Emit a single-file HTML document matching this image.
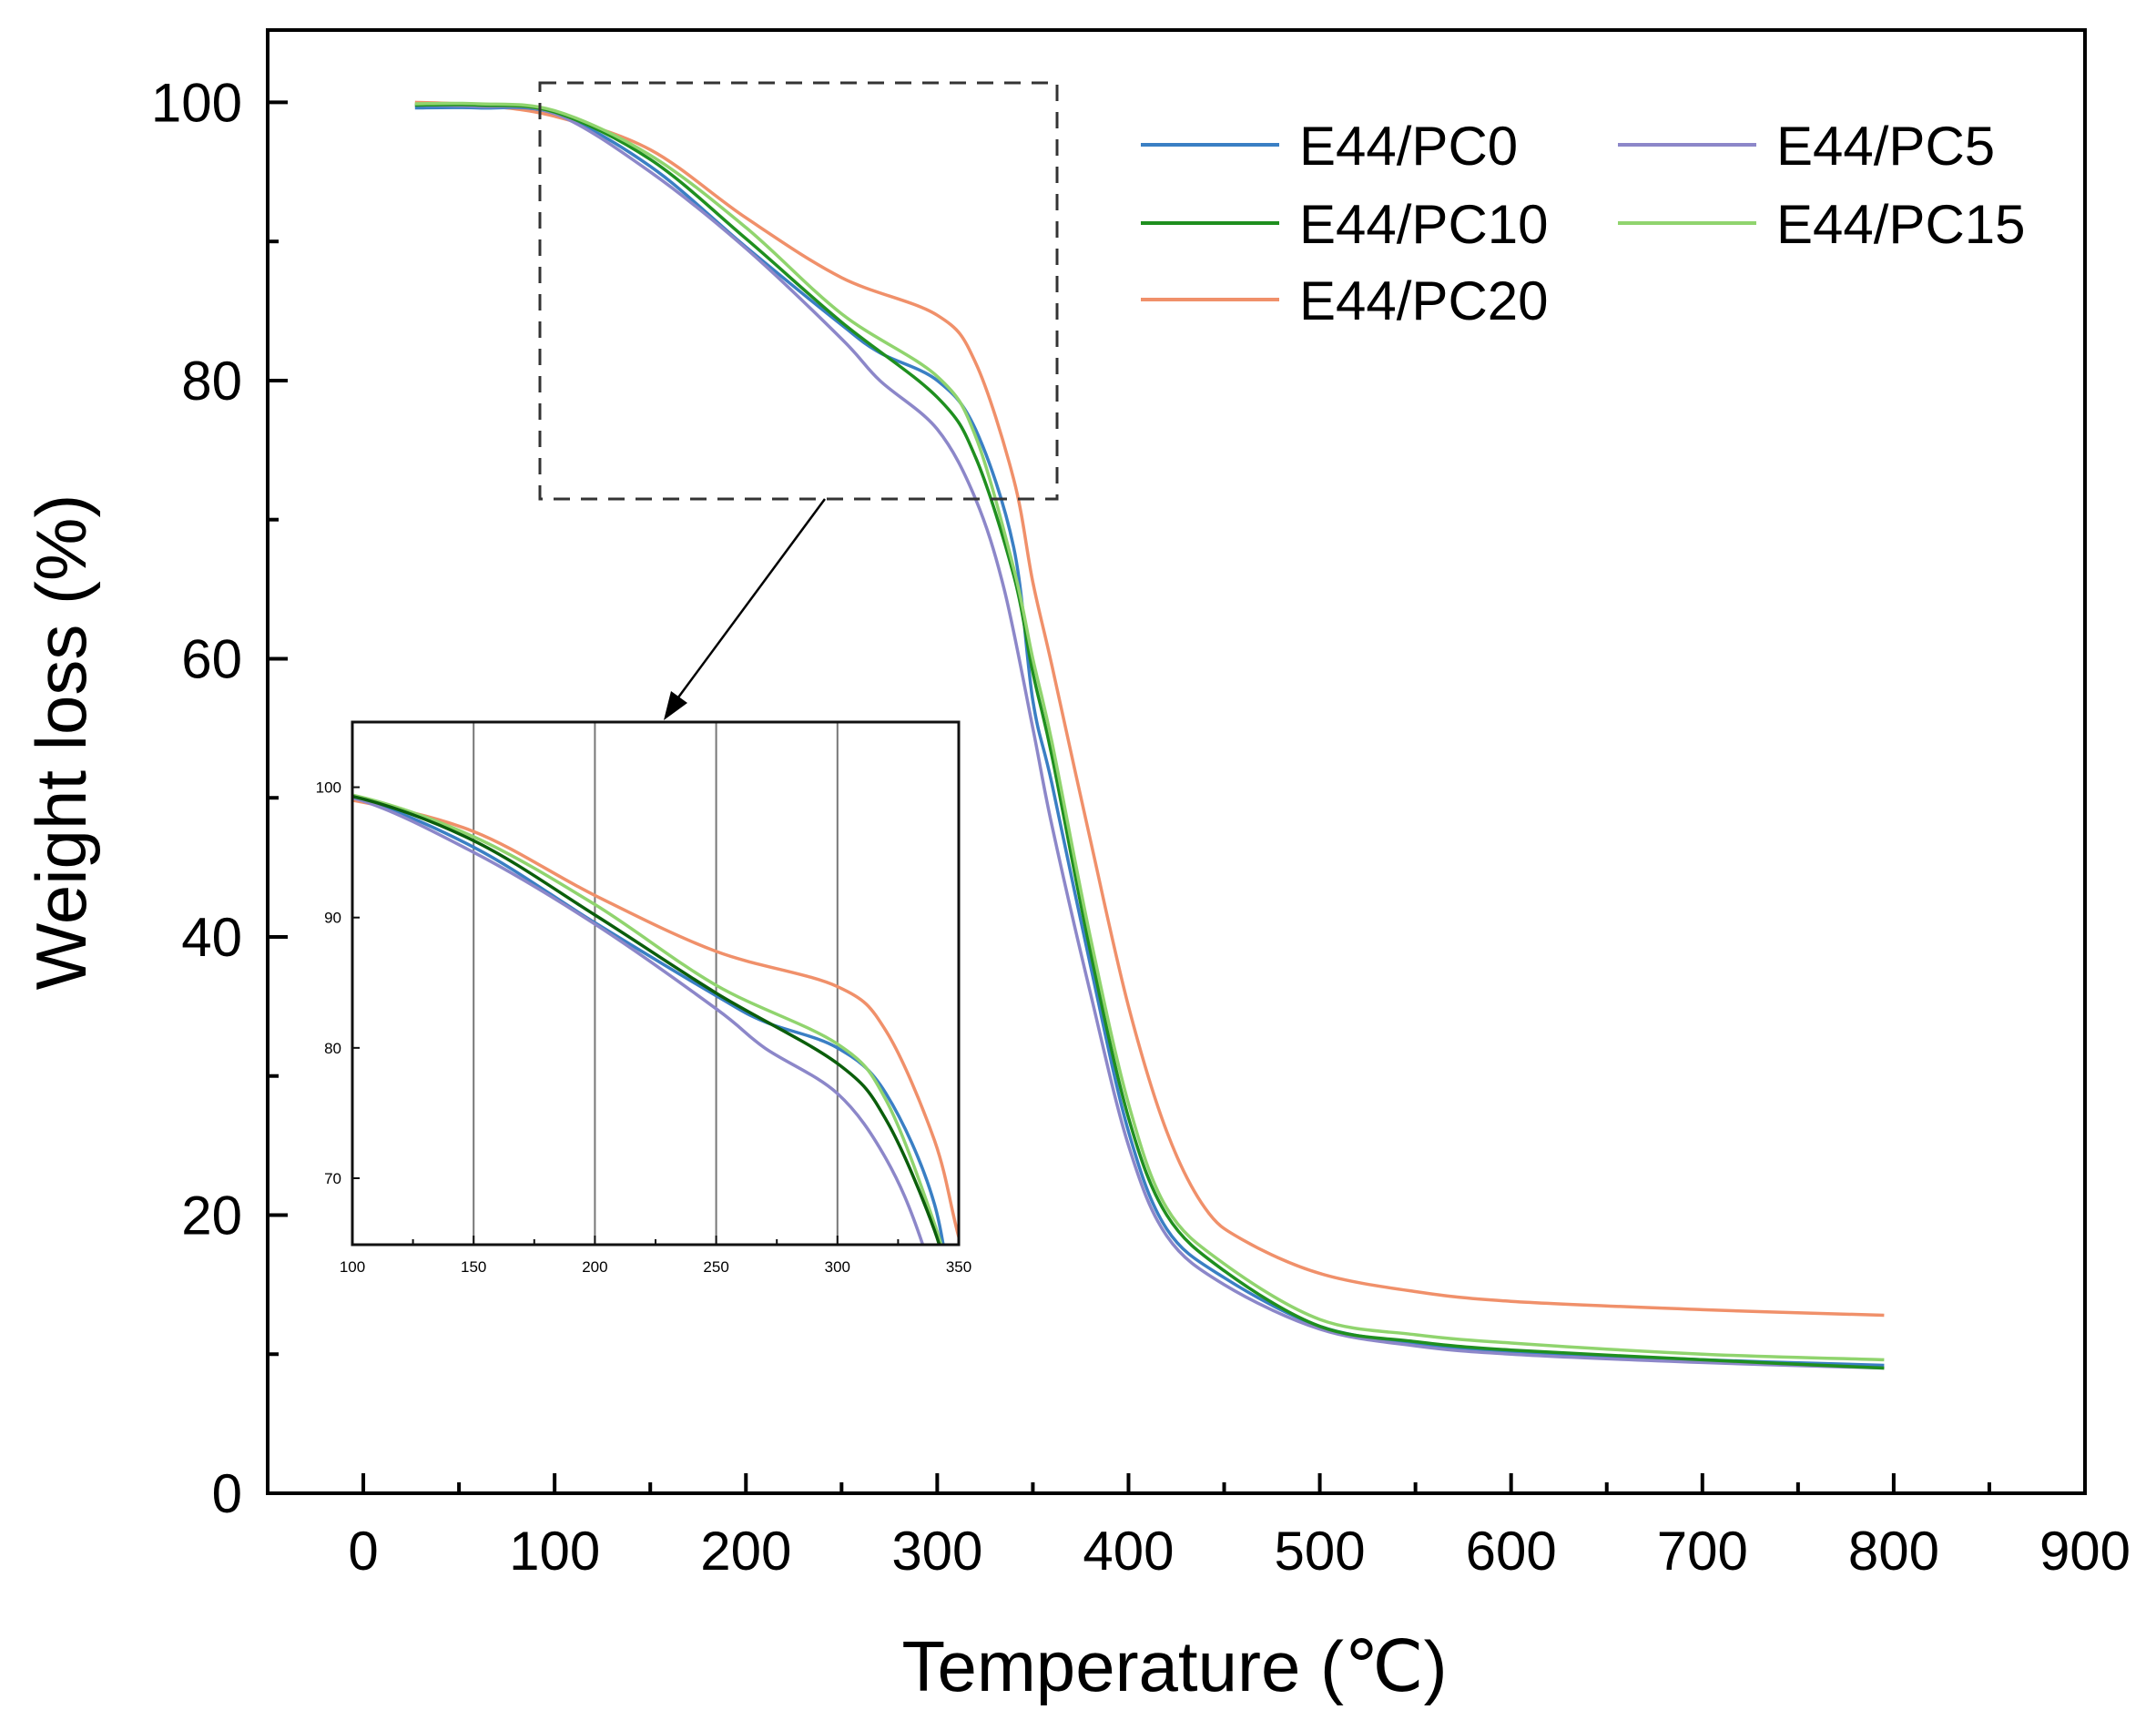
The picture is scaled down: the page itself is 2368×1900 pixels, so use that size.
<!DOCTYPE html>
<html><head><meta charset="utf-8"><style>
html,body{margin:0;padding:0;background:#fff;overflow:hidden;width:2368px;height:1900px;}
svg{display:block;}
svg text{font-family:"Liberation Sans",Arial,sans-serif;fill:#000;}
</style></head><body>
<svg id="chart" width="2368" height="1900" viewBox="0 0 2368 1900" xmlns="http://www.w3.org/2000/svg"></svg>
<script>
const seriesNames = ["E44/PC0","E44/PC5","E44/PC10","E44/PC15","E44/PC20"];
const seriesColors = ["#3a7fc4","#8c87c9","#1f8f1f","#90d46e","#f0906a"];
const xPC0  = [27,60,100,150,200,250,270,300,320,340,350,360,380,400,420,450,500,550,600,700,795];
const yPC0  = [99.6,99.6,99.2,95.4,89.6,84.0,82.0,80.0,76.5,68,57,51,38,26,19,15.5,12,10.8,10.2,9.6,9.2];
const xPC5  = [27,60,100,150,200,250,270,300,320,335,350,360,380,400,420,450,500,550,600,700,795];
const yPC5  = [99.8,99.7,99.2,95.0,89.5,83.0,80.0,76.5,71.5,65,55,48,36,25,18.5,15,11.8,10.6,10,9.4,9.0];
const xPC10 = [27,60,100,150,200,250,300,320,340,350,360,380,400,420,450,500,550,600,700,795];
const yPC10 = [99.8,99.8,99.3,95.9,90.2,84.2,78.8,74.5,66,59,53,39,27,20,16,12,10.9,10.3,9.6,9.0];
const xPC15 = [27,60,100,150,200,250,300,320,340,350,360,380,400,420,450,500,550,600,700,795];
const yPC15 = [99.9,99.9,99.4,96.2,91.0,84.8,80.3,76,66.5,60,54,40,28,20.5,16.5,12.5,11.4,10.8,10.0,9.6];
const xPC20 = [27,60,100,150,200,250,300,320,340,350,360,380,400,420,440,460,500,550,600,700,795];
const yPC20 = [100,99.8,99.0,96.6,91.7,87.4,84.7,81.3,72.9,65.5,59.5,47,35,26,20.5,18.2,15.8,14.5,13.8,13.2,12.8];
const seriesX = [xPC0,xPC5,xPC10,xPC15,xPC20];
const seriesY = [yPC0,yPC5,yPC10,yPC15,yPC20];
const xTicks = [0,100,200,300,400,500,600,700,800,900];
const yTicks = [0,20,40,60,80,100];
const insetXTicks = [100,150,200,250,300,350];
const insetYTicks = [70,80,90,100];

const NS="http://www.w3.org/2000/svg";
const svg=document.getElementById('chart');
function mk(tag,attrs,parent){const e=document.createElementNS(NS,tag);for(const k in attrs)e.setAttribute(k,attrs[k]);(parent||svg).appendChild(e);return e;}

const L=294,R=2290,T=33,B=1640;
const X0=-50,X1=900,Y0=0,Y1=105.2;
const sx=v=>L+(v-X0)/(X1-X0)*(R-L);
const sy=v=>B-(v-Y0)/(Y1-Y0)*(B-T);
const iL=387,iR=1053,iT=793,iB=1367;
const iX0=100,iX1=350,iY0=64.9,iY1=105;
const isx=v=>iL+(v-iX0)/(iX1-iX0)*(iR-iL);
const isy=v=>iB-(v-iY0)/(iY1-iY0)*(iB-iT);

function pathFrom(xs,ys,fx,fy){
  const p=xs.map((x,i)=>[fx(x),fy(ys[i])]);
  let d=`M${p[0][0].toFixed(1)},${p[0][1].toFixed(1)}`;
  for(let i=0;i<p.length-1;i++){
    const p0=p[i-1]||p[i],p1=p[i],p2=p[i+1],p3=p[i+2]||p2;
    const c1=[p1[0]+(p2[0]-p0[0])/6,p1[1]+(p2[1]-p0[1])/6];
    const c2=[p2[0]-(p3[0]-p1[0])/6,p2[1]-(p3[1]-p1[1])/6];
    d+=`C${c1[0].toFixed(1)},${c1[1].toFixed(1)} ${c2[0].toFixed(1)},${c2[1].toFixed(1)} ${p2[0].toFixed(1)},${p2[1].toFixed(1)}`;
  }
  return d;
}

const defs=mk('defs',{});
const cp=mk('clipPath',{id:'insetClip'},defs);
mk('rect',{x:iL,y:iT,width:iR-iL,height:iB-iT},cp);

const drawOrder=[4,0,1,2,3];
drawOrder.forEach(i=>{
  const p=mk('path',{d:pathFrom(seriesX[i],seriesY[i],sx,sy),fill:'none',stroke:seriesColors[i],'stroke-width':3.5});
  
  
});

const frame=mk('rect',{x:L,y:T,width:R-L,height:B-T,fill:'none',stroke:'#000','stroke-width':4});



for(let v=-50;v<=900;v+=50){
  const maj=v%100===0;
  mk('line',{x1:sx(v),x2:sx(v),y1:B,y2:B-(maj?22:12),stroke:'#000','stroke-width':4});
}
xTicks.forEach(v=>{
  const t=mk('text',{x:sx(v),y:B+84,'font-size':60,'text-anchor':'middle'});t.textContent=v;
  
  
});
for(let v=0;v<=100;v+=10){
  const maj=v%20===0;
  mk('line',{x1:L,x2:L+(maj?22:12),y1:sy(v),y2:sy(v),stroke:'#000','stroke-width':4});
}
yTicks.forEach(v=>{
  const t=mk('text',{x:L-28,y:sy(v)+21,'font-size':60,'text-anchor':'end'});t.textContent=v;
  
  
});
const xt=mk('text',{x:1290,y:1857,'font-size':78,'text-anchor':'middle'});xt.textContent='Temperature (℃)';


const yt=mk('text',{x:0,y:0,'font-size':78,'text-anchor':'middle',transform:'translate(94,815) rotate(-90)'});yt.textContent='Weight loss (%)';



const zb=mk('rect',{x:593,y:91,width:568,height:457,fill:'none',stroke:'#333','stroke-width':3,'stroke-dasharray':'18,12'});


const ar=mk('line',{x1:906,y1:548,x2:742,y2:770,stroke:'#000','stroke-width':2.5});


mk('polygon',{points:'729,791 737,759 755,772',fill:'#000'});

mk('rect',{x:iL,y:iT,width:iR-iL,height:iB-iT,fill:'#fff',stroke:'none'});
[150,200,250,300].forEach(v=>mk('line',{x1:isx(v),x2:isx(v),y1:iT,y2:iB,stroke:'#777','stroke-width':2}));
const ig=mk('g',{'clip-path':'url(#insetClip)'});


const insetColors=["#3a7fc4","#8c87c9","#0b5e0b","#90d46e","#f0906a"];
[4,0,1,3,2].forEach(i=>{
  const p=mk('path',{d:pathFrom(seriesX[i],seriesY[i],isx,isy),fill:'none',stroke:insetColors[i],'stroke-width':3.5},ig);
  
  
});
const ifr=mk('rect',{x:iL,y:iT,width:iR-iL,height:iB-iT,fill:'none',stroke:'#111','stroke-width':3});


for(let v=100;v<=350;v+=25)mk('line',{x1:isx(v),x2:isx(v),y1:iB,y2:iB-(v%50===0?10:6),stroke:'#111','stroke-width':2});
insetXTicks.forEach(v=>{const t=mk('text',{x:isx(v),y:iB+30,'font-size':17,'text-anchor':'middle',fill:'#333'});t.textContent=v;
  
  });
insetYTicks.forEach(v=>{mk('line',{x1:iL,x2:iL+8,y1:isy(v),y2:isy(v),stroke:'#111','stroke-width':2});
  const t=mk('text',{x:iL-12,y:isy(v)+6,'font-size':17,'text-anchor':'end',fill:'#333'});t.textContent=v;
  
  });

const legPos=[[1253,159],[1777,159],[1253,245],[1777,245],[1253,329]];
const legOrder=[0,1,2,3,4];
legOrder.forEach((i,k)=>{
  const [lx,ly]=legPos[k];
  const g=mk('g',{});
  
  
  mk('line',{x1:lx,x2:lx+152,y1:ly,y2:ly,stroke:seriesColors[i],'stroke-width':4},g);
  const t=mk('text',{x:lx+174,y:ly+22,'font-size':60},g);t.textContent=seriesNames[i];
});
</script>
</body></html>
